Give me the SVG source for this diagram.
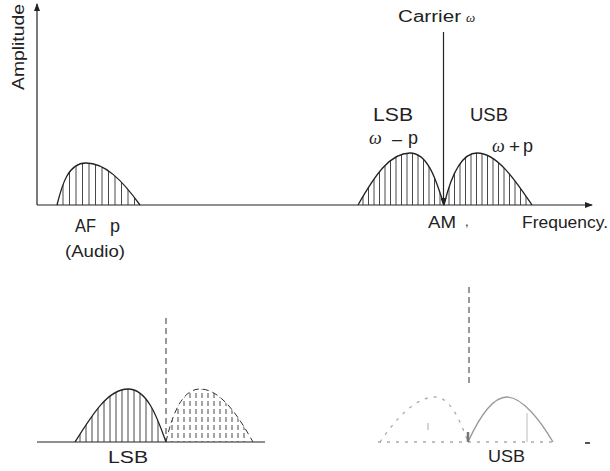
<svg xmlns="http://www.w3.org/2000/svg" width="610" height="471" viewBox="0 0 610 471">
<style>
.ax{stroke:#222;stroke-width:1.2;fill:none}
.curve{stroke:#222;stroke-width:1.3;fill:none}
.hatch{stroke:#333;stroke-width:0.9}
.dash{stroke:#333;stroke-width:1;fill:none;stroke-dasharray:6,4}
.faint{stroke:#999;stroke-width:1.3;fill:none}
.dot{stroke:#aaa;stroke-width:1.3;fill:none;stroke-dasharray:3,6}
text{font-family:"Liberation Sans",Arial,sans-serif;fill:#222}
.w{font-family:"Liberation Serif","DejaVu Serif",serif;font-style:italic}
</style>
<defs>
<marker id="arr" markerWidth="8" markerHeight="6" refX="7" refY="3" orient="auto" markerUnits="userSpaceOnUse">
<path d="M0,0 L8,3 L0,6 Z" fill="#222"/>
</marker>
<clipPath id="cAF"><path d="M57,205 C62,185 68,163 86,163 C105,163 122,180 140,205 Z"/></clipPath>
<clipPath id="cLSB"><path d="M358,205 C375,175 390,153 410,153 C428,153 436,180 444,205 Z"/></clipPath>
<clipPath id="cUSB"><path d="M444,205 C450,180 460,153 477,153 C497,153 515,180 532,205 Z"/></clipPath>
<clipPath id="cBL"><path d="M75,442 C92,415 108,389 128,389 C148,389 158,420 166,442 Z"/></clipPath>
<clipPath id="cBR"><path d="M166,442 C172,415 182,389 200,389 C220,389 238,415 253,442 Z"/></clipPath>
</defs>

<g id="axes">
<line class="ax" x1="37" y1="205" x2="37" y2="4" marker-end="url(#arr)"/>
<line class="ax" x1="37" y1="205" x2="592" y2="205" marker-end="url(#arr)"/>
<text transform="translate(24,90) rotate(-90)" font-size="17" textLength="86" lengthAdjust="spacingAndGlyphs">Amplitude</text>
<text x="522" y="228" font-size="17" textLength="86" lengthAdjust="spacingAndGlyphs">Frequency.</text>
</g>

<g id="af">
<g clip-path="url(#cAF)" class="hatch">
<line x1="63" y1="160" x2="63" y2="205"/><line x1="69.5" y1="160" x2="69.5" y2="205"/><line x1="76" y1="160" x2="76" y2="205"/><line x1="82.5" y1="160" x2="82.5" y2="205"/><line x1="89" y1="160" x2="89" y2="205"/><line x1="95.5" y1="160" x2="95.5" y2="205"/><line x1="102" y1="160" x2="102" y2="205"/><line x1="108.5" y1="160" x2="108.5" y2="205"/><line x1="115" y1="160" x2="115" y2="205"/><line x1="121.5" y1="160" x2="121.5" y2="205"/><line x1="128" y1="160" x2="128" y2="205"/><line x1="134.5" y1="160" x2="134.5" y2="205"/>
</g>
<path class="curve" d="M57,205 C62,185 68,163 86,163 C105,163 122,180 140,205"/>
<text x="75" y="232" font-size="18" textLength="21" lengthAdjust="spacingAndGlyphs">AF</text>
<text x="110" y="232" font-size="18">p</text>
<text x="65" y="257" font-size="16" textLength="60" lengthAdjust="spacingAndGlyphs">(Audio)</text>
</g>

<g id="lsb">
<g clip-path="url(#cLSB)" class="hatch">
<line x1="363" y1="150" x2="363" y2="205"/><line x1="368.5" y1="150" x2="368.5" y2="205"/><line x1="374" y1="150" x2="374" y2="205"/><line x1="379.5" y1="150" x2="379.5" y2="205"/><line x1="385" y1="150" x2="385" y2="205"/><line x1="390.5" y1="150" x2="390.5" y2="205"/><line x1="396" y1="150" x2="396" y2="205"/><line x1="401.5" y1="150" x2="401.5" y2="205"/><line x1="407" y1="150" x2="407" y2="205"/><line x1="412.5" y1="150" x2="412.5" y2="205"/><line x1="418" y1="150" x2="418" y2="205"/><line x1="423.5" y1="150" x2="423.5" y2="205"/><line x1="429" y1="150" x2="429" y2="205"/><line x1="434.5" y1="150" x2="434.5" y2="205"/><line x1="440" y1="150" x2="440" y2="205"/>
</g>
<path class="curve" d="M358,205 C375,175 390,153 410,153 C428,153 436,180 444,205"/>
<text x="373" y="121" font-size="18" textLength="40" lengthAdjust="spacingAndGlyphs">LSB</text>
<text x="369" y="144" font-size="18" class="w">ω</text>
<text x="392" y="145" font-size="18">–</text>
<text x="408" y="144" font-size="18">p</text>
</g>

<g id="usb">
<g clip-path="url(#cUSB)" class="hatch">
<line x1="449" y1="150" x2="449" y2="205"/><line x1="454.5" y1="150" x2="454.5" y2="205"/><line x1="460" y1="150" x2="460" y2="205"/><line x1="465.5" y1="150" x2="465.5" y2="205"/><line x1="471" y1="150" x2="471" y2="205"/><line x1="476.5" y1="150" x2="476.5" y2="205"/><line x1="482" y1="150" x2="482" y2="205"/><line x1="487.5" y1="150" x2="487.5" y2="205"/><line x1="493" y1="150" x2="493" y2="205"/><line x1="498.5" y1="150" x2="498.5" y2="205"/><line x1="504" y1="150" x2="504" y2="205"/><line x1="509.5" y1="150" x2="509.5" y2="205"/><line x1="515" y1="150" x2="515" y2="205"/><line x1="520.5" y1="150" x2="520.5" y2="205"/><line x1="526" y1="150" x2="526" y2="205"/>
</g>
<path class="curve" d="M444,205 C450,180 460,153 477,153 C497,153 515,180 532,205"/>
<text x="470" y="121" font-size="18" textLength="38" lengthAdjust="spacingAndGlyphs">USB</text>
<text x="492" y="152" font-size="18" class="w">ω</text>
<text x="509" y="153" font-size="19">+</text>
<text x="523" y="152" font-size="18">p</text>
</g>

<g id="carrier">
<line class="ax" x1="443.5" y1="32" x2="443.5" y2="205" marker-end="url(#arr)"/>
<text x="398" y="22" font-size="16" textLength="63" lengthAdjust="spacingAndGlyphs">Carrier</text>
<text x="466" y="22" font-size="13" class="w">ω</text>
<text x="428" y="228" font-size="17" textLength="28" lengthAdjust="spacingAndGlyphs">AM</text>
<text x="465" y="226" font-size="13">,</text>
</g>

<g id="bottom-lsb">
<line class="ax" x1="37" y1="442" x2="265" y2="442" stroke-width="1"/>
<g clip-path="url(#cBL)" class="hatch">
<line x1="80" y1="385" x2="80" y2="442"/><line x1="86" y1="385" x2="86" y2="442"/><line x1="92" y1="385" x2="92" y2="442"/><line x1="98" y1="385" x2="98" y2="442"/><line x1="104" y1="385" x2="104" y2="442"/><line x1="110" y1="385" x2="110" y2="442"/><line x1="116" y1="385" x2="116" y2="442"/><line x1="122" y1="385" x2="122" y2="442"/><line x1="128" y1="385" x2="128" y2="442"/><line x1="134" y1="385" x2="134" y2="442"/><line x1="140" y1="385" x2="140" y2="442"/><line x1="146" y1="385" x2="146" y2="442"/><line x1="152" y1="385" x2="152" y2="442"/><line x1="158" y1="385" x2="158" y2="442"/>
</g>
<g clip-path="url(#cBR)" class="hatch" stroke-dasharray="5,3">
<line x1="172" y1="385" x2="172" y2="442"/><line x1="178" y1="385" x2="178" y2="442"/><line x1="184" y1="385" x2="184" y2="442"/><line x1="190" y1="385" x2="190" y2="442"/><line x1="196" y1="385" x2="196" y2="442"/><line x1="202" y1="385" x2="202" y2="442"/><line x1="208" y1="385" x2="208" y2="442"/><line x1="214" y1="385" x2="214" y2="442"/><line x1="220" y1="385" x2="220" y2="442"/><line x1="226" y1="385" x2="226" y2="442"/><line x1="232" y1="385" x2="232" y2="442"/><line x1="238" y1="385" x2="238" y2="442"/><line x1="244" y1="385" x2="244" y2="442"/>
</g>
<path class="curve" d="M75,442 C92,415 108,389 128,389 C148,389 158,420 166,442"/>
<path class="dash" d="M166,442 C172,415 182,389 200,389 C220,389 238,415 253,442"/>
<line class="dash" x1="166" y1="318" x2="166" y2="442"/>
<text x="108" y="463" font-size="16" textLength="40" lengthAdjust="spacingAndGlyphs">LSB</text>
</g>

<g id="bottom-usb">
<line class="dot" x1="378" y1="442" x2="553" y2="442"/>
<path class="dot" d="M380,442 C395,420 415,397 435,397 C450,397 460,420 468,442"/>
<path class="faint" d="M468,442 C478,420 492,397 507,397 C522,397 540,420 553,442"/>
<line x1="468" y1="432" x2="468" y2="442" stroke="#777" stroke-width="2.5"/>
<line x1="527" y1="413" x2="527" y2="442" stroke="#bbb" stroke-width="1"/>
<line x1="428" y1="423" x2="428" y2="430" stroke="#aaa" stroke-width="1"/>
<line class="dash" x1="469" y1="287" x2="469" y2="383" stroke="#555"/>
<line x1="585" y1="443" x2="590" y2="443" stroke="#555" stroke-width="2"/>
<text x="488" y="462" font-size="17" textLength="37" lengthAdjust="spacingAndGlyphs">USB</text>
</g>
</svg>
